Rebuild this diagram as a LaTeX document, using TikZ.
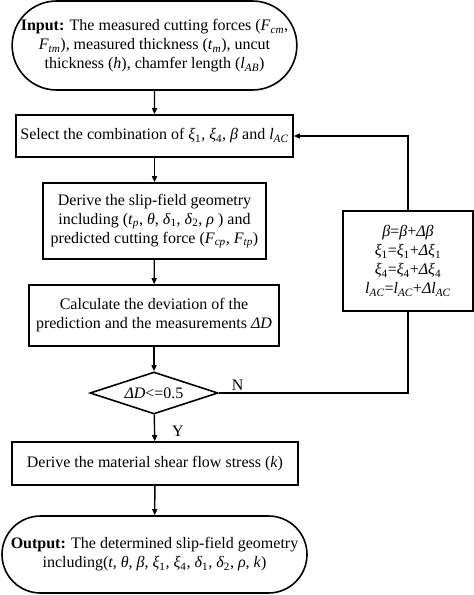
\documentclass[tikz,border=0pt]{standalone}
\usepackage{fontspec}
\setmainfont{Liberation Serif}
\usetikzlibrary{shapes.misc,shapes.geometric,arrows.meta}
\newcommand{\vv}[2]{\textit{#1}\textsubscript{\textit{#2}}}
\newcommand{\vn}[2]{\textit{#1}\textsubscript{#2}}
\begin{document}
\begin{tikzpicture}[x=1pt,y=-1pt,
  every node/.style={font=\fontsize{16}{19}\selectfont, align=center, inner sep=0pt},
  box/.style={draw, line width=1.6pt, rectangle},
  term/.style={draw, line width=1.6pt, rounded rectangle},
  dec/.style={draw, line width=1.6pt, diamond, shape aspect=3},
  conn/.style={line width=1.4pt, -{Triangle[length=6pt,width=5pt]}},
  plain/.style={line width=1.4pt}]
\useasboundingbox (0,0) rectangle (474,595);
\node[term, minimum width=283pt, minimum height=89pt] (in) at (154.5,45.5)
 {\textbf{Input:} The measured cutting forces (\vv{F}{cm},\\
  \vv{F}{tm}), measured thickness (\vv{t}{m}), uncut\\
  thickness (\textit{h}), chamfer length (\vv{l}{AB})};
\node[box, minimum width=277pt, minimum height=42pt] (sel) at (154.5,136)
 {Select the combination of \vn{ξ}{1}, \vn{ξ}{4}, \textit{β} and \vv{l}{AC}};
\node[box, minimum width=223pt, minimum height=76pt] (der) at (154.5,221)
 {Derive the slip-field geometry\\
  including (\vv{t}{p}, \textit{θ}, \vn{δ}{1}, \vn{δ}{2}, \textit{ρ} ) and\\
  predicted cutting force (\vv{F}{cp}, \vv{F}{tp})};
\node[box, minimum width=250pt, minimum height=61pt] (calc) at (154,315.5)
 {Calculate the deviation of the\\
  prediction and the measurements \textit{ΔD}};
\node[dec, minimum width=128pt, minimum height=42pt] (dia) at (154,393)
 {\textit{ΔD}<=0.5};
\node[box, minimum width=286pt, minimum height=43pt] (mat) at (155,463.5)
 {Derive the material shear flow stress (\textit{k})};
\node[term, minimum width=305pt, minimum height=77pt] (out) at (154.5,554.5)
 {\textbf{Output:} The determined slip-field geometry\\
  including(\textit{t}, \textit{θ}, \textit{β}, \vn{ξ}{1}, \vn{ξ}{4}, \vn{δ}{1}, \vn{δ}{2}, \textit{ρ}, \textit{k})};
\node[box, minimum width=130pt, minimum height=100pt] (upd) at (408,261)
 {\textit{β}=\textit{β}+\textit{Δβ}\\
  \vn{ξ}{1}=\vn{ξ}{1}+\textit{Δ}\vn{ξ}{1}\\
  \vn{ξ}{4}=\vn{ξ}{4}+\textit{Δ}\vn{ξ}{4}\\
  \vv{l}{AC}=\vv{l}{AC}+\textit{Δ}\vv{l}{AC}};
\coordinate (c1) at (408,393);
\coordinate (c2) at (408,136);
\draw[conn] (in) -- (sel);
\draw[conn] (sel) -- (der);
\draw[conn] (der) -- (calc);
\draw[conn] (calc) -- (dia);
\draw[conn] (dia) -- node[right, xshift=17pt, yshift=-3pt] (ylab) {Y} (mat);
\draw[conn] (mat) -- (out);
\draw[plain] (dia.east) -- node[above, pos=0.1, yshift=2pt] (nlab) {N} (c1) -- (upd.south);
\draw[conn] (upd.north) -- (c2) -- (sel.east);
\end{tikzpicture}
\end{document}
